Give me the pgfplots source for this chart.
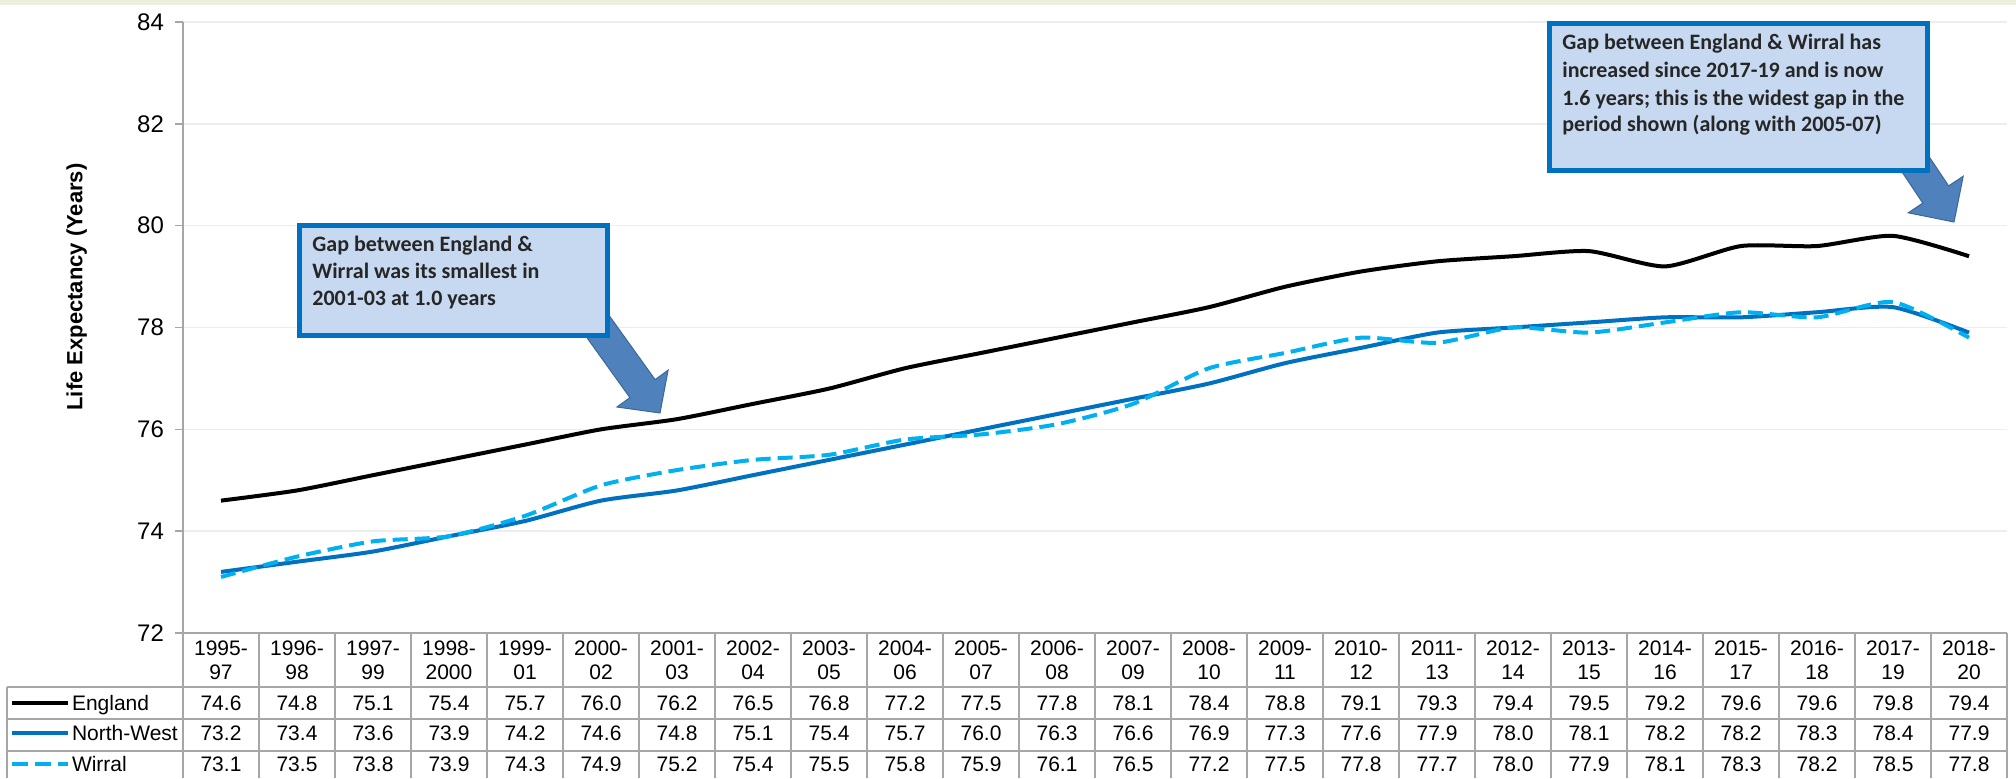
\documentclass[border=0pt]{standalone}
\usepackage{pgfplots}
\pgfplotsset{compat=1.18}
\usepackage{pgfplotstable}
\usepackage{fontspec}
\setmainfont{Liberation Sans}
\newfontfamily\calibri{Carlito}
\definecolor{nwblue}{HTML}{0070C0}
\definecolor{wirblue}{HTML}{00B0F0}
\definecolor{boxfill}{HTML}{C6D9F1}
\definecolor{boxline}{HTML}{0070C0}
\definecolor{arrowfill}{HTML}{4F81BD}
\definecolor{arrowline}{HTML}{3C6896}
\definecolor{tblgray}{HTML}{A6A6A6}
\definecolor{gridgray}{HTML}{EDEDED}
\definecolor{topgreen}{HTML}{EBF1DE}
\def\tablefont{\fontsize{10.5}{10.5}\selectfont}
\newcommand\hdr[2]{\vbox{\baselineskip=12pt\lineskiplimit=-20pt\hbox to 0pt{\hss#1\hss}\hbox to 0pt{\hss#2\hss}}}

\pgfplotstableread{
x E NW W
0 74.6 73.2 73.1
1 74.8 73.4 73.5
2 75.1 73.6 73.8
3 75.4 73.9 73.9
4 75.7 74.2 74.3
5 76.0 74.6 74.9
6 76.2 74.8 75.2
7 76.5 75.1 75.4
8 76.8 75.4 75.5
9 77.2 75.7 75.8
10 77.5 76.0 75.9
11 77.8 76.3 76.1
12 78.1 76.6 76.5
13 78.4 76.9 77.2
14 78.8 77.3 77.5
15 79.1 77.6 77.8
16 79.3 77.9 77.7
17 79.4 78.0 78.0
18 79.5 78.1 77.9
19 79.2 78.2 78.1
20 79.6 78.2 78.3
21 79.6 78.3 78.2
22 79.8 78.4 78.5
23 79.4 77.9 77.8
}\data

\begin{document}
\begin{tikzpicture}[x=1pt,y=1pt]
\path[use as bounding box] (0,0) rectangle (1008,-389);
\fill[topgreen] (0,0) rectangle (1008,-2.5);
\begin{axis}[
  at={(91.5pt,-316.5pt)}, anchor=south west,
  scale only axis, width=912pt, height=305.5pt,
  xmin=-0.5, xmax=23.5, ymin=72, ymax=84,
  ytick={72,74,...,84},
  xtick={0,...,23},
  xticklabels={\hdr{1995-}{97},\hdr{1996-}{98},\hdr{1997-}{99},\hdr{1998-}{2000},\hdr{1999-}{01},\hdr{2000-}{02},\hdr{2001-}{03},\hdr{2002-}{04},\hdr{2003-}{05},\hdr{2004-}{06},\hdr{2005-}{07},\hdr{2006-}{08},\hdr{2007-}{09},\hdr{2008-}{10},\hdr{2009-}{11},\hdr{2010-}{12},\hdr{2011-}{13},\hdr{2012-}{14},\hdr{2013-}{15},\hdr{2014-}{16},\hdr{2015-}{17},\hdr{2016-}{18},\hdr{2017-}{19},\hdr{2018-}{20}},
  xticklabel style={font=\tablefont, inner sep=0pt, anchor=north, yshift=0.25pt},
  xtick style={draw=none},
  axis x line*=bottom, axis y line*=left,
  axis line style={-, tblgray, line width=0.75pt},
  ytick style={tblgray, line width=0.75pt},
  major tick length=4pt, tick align=outside,
  yticklabel style={font=\fontsize{12}{12}\selectfont, /pgf/number format/assume math mode=true, xshift=-2pt},
  ymajorgrids, grid style={gridgray, line width=0.75pt},
]
\addplot[black, line width=2pt, smooth, tension=0.4] table[x=x,y=E]{\data};
\addplot[nwblue, line width=2pt, smooth, tension=0.4] table[x=x,y=NW]{\data};
\addplot[wirblue, line width=2pt, dash pattern=on 7.5pt off 3.5pt, smooth, tension=0.4] table[x=x,y=W]{\data};
\end{axis}

% y label
\node[rotate=90, font=\bfseries\fontsize{11}{11}\selectfont] at (38.3,-143.5) {Life Expectancy (Years)};

% table grid
\begin{scope}[tblgray, line width=0.75pt]
\draw (3.5,-343.5) -- (1003.5,-343.5);
\draw (3.5,-359.5) -- (1003.5,-359.5);
\draw (3.5,-375.5) -- (1003.5,-375.5);
\draw (3.5,-343.5) -- (3.5,-389);
\draw (91.5,-316.5) -- (91.5,-389);
\foreach \k in {1,...,24} { \draw ({91.5+38*\k},-316.5) -- ({91.5+38*\k},-389); }
\end{scope}

% row keys and labels
\draw[black, line width=1.7pt] (6,-351.5) -- (34,-351.5);
\draw[nwblue, line width=1.7pt] (6,-366.5) -- (34,-366.5);
\draw[wirblue, line width=1.7pt, dash pattern=on 8.3pt off 3.3pt] (5.8,-382) -- (34.2,-382);
\node[anchor=base west, inner sep=0pt, font=\tablefont] at (35.8,-355.3) {England};
\node[anchor=base west, inner sep=0pt, font=\tablefont] at (35.8,-370.3) {North-West};
\node[anchor=base west, inner sep=0pt, font=\tablefont] at (35.8,-385.8) {Wirral};

% table values
\foreach \i in {0,...,23} {
  \pgfplotstablegetelem{\i}{E}\of\data \let\vE\pgfplotsretval
  \pgfplotstablegetelem{\i}{NW}\of\data \let\vN\pgfplotsretval
  \pgfplotstablegetelem{\i}{W}\of\data \let\vW\pgfplotsretval
  \pgfmathsetmacro\cx{91.5+38*(\i+0.5)}
  \node[anchor=base, inner sep=0pt, font=\tablefont] at (\cx,-355.3) {\vE};
  \node[anchor=base, inner sep=0pt, font=\tablefont] at (\cx,-370.3) {\vN};
  \node[anchor=base, inner sep=0pt, font=\tablefont] at (\cx,-385.8) {\vW};
}

% arrows
\filldraw[fill=arrowfill, draw=arrowline, line width=0.5pt, line join=miter]
  (303.05,-155.65) -- (327.55,-189.8) -- (334.05,-185.1) -- (330,-206.5) -- (308.45,-203.5) -- (314.95,-198.8) -- (290.45,-164.65) -- cycle;
\filldraw[fill=arrowfill, draw=arrowline, line width=0.5pt, line join=miter]
  (962.8,-75.7) -- (974.3,-92.95) -- (981.6,-88.1) -- (977,-111) -- (954.1,-106.4) -- (961.4,-101.55) -- (949.9,-84.3) -- cycle;

% boxes
\filldraw[fill=boxfill, draw=boxline, line width=2.5pt] (149.75,-112.75) rectangle (303.75,-167.75);
\filldraw[fill=boxfill, draw=boxline, line width=2.5pt] (774.75,-11.75) rectangle (963.75,-85.25);

\begin{scope}[every node/.style={anchor=base west, inner sep=0pt, font=\calibri\bfseries\fontsize{11}{11}\selectfont, text=black!85}]
\node at (156,-125.5) {Gap between England \&};
\node at (156,-139) {Wirral was its smallest in};
\node at (156,-152.75) {2001-03 at 1.0 years};
\node at (781,-24.7) {Gap between England \& Wirral has};
\node at (781,-38.7) {increased since 2017-19 and is now};
\node at (781,-52.5) {1.6 years; this is the widest gap in the};
\node at (781,-65.8) {period shown (along with 2005-07)};
\end{scope}
\end{tikzpicture}
\end{document}
